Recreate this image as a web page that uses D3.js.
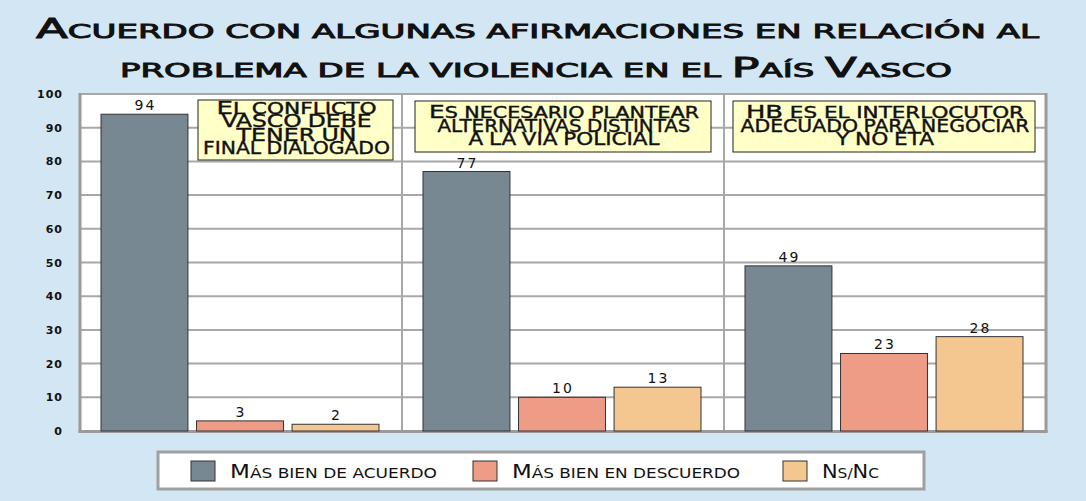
<!DOCTYPE html>
<html>
<head>
<meta charset="utf-8">
<script src="https://cdn.jsdelivr.net/npm/d3@7"></script>
<style>
  html, body { margin: 0; padding: 0; background: #d3e6f4; }
  svg { display: block; }
  text { font-family: "DejaVu Sans", sans-serif; fill: #111; }
</style>
</head>
<body>
<svg id="chart" width="1086" height="501"></svg>
<script>
// data
const groups = ["conflicto", "alternativas", "hb"];
const series = ["Más bien de acuerdo", "Más bien en descuerdo", "Ns/Nc"];
const acuerdo = [94, 77, 49];
const descuerdo = [3, 10, 23];
const nsnc = [2, 13, 28];
const yTicks = [0, 10, 20, 30, 40, 50, 60, 70, 80, 90, 100];
const titleLines = ["Acuerdo con algunas afirmaciones en relación al", "problema de la violencia en el País Vasco"];
const notes = [
  ["El conflicto", "VASCO DEBE", "TENER UN", "FINAL DIALOGADO"],
  ["Es necesario plantear", "ALTERNATIVAS DISTINTAS", "A LA VIA POLICIAL"],
  ["HB es el interlocutor", "ADECUADO PARA NEGOCIAR", "Y NO ETA"]
];

const colors = ["#788892", "#ee9c85", "#f4c690"];
const values = [acuerdo, descuerdo, nsnc];

const svg = d3.select("#chart");

// write text as small caps: letters already in capitals stay big
function smallCaps(sel, str, big, small) {
  let chunks = [];
  for (const ch of str) {
    const isBig = ch !== ch.toLowerCase();
    const last = chunks[chunks.length - 1];
    if (last && last.big === isBig) last.t += ch;
    else chunks.push({ t: ch, big: isBig });
  }
  sel.selectAll("tspan").data(chunks).join("tspan")
    .attr("font-size", d => d.big ? big : small)
    .text(d => d.t.toUpperCase());
}

// title
const titleBox = [[36, 38, 1003], [120, 77, 832]];
titleLines.forEach((line, i) => {
  const t = svg.append("text")
    .attr("x", titleBox[i][0])
    .attr("y", titleBox[i][1])
    .attr("textLength", titleBox[i][2])
    .attr("lengthAdjust", "spacingAndGlyphs")
    .attr("stroke", "#111")
    .attr("stroke-width", 0.9);
  smallCaps(t, line, 26, 19);
});

// scales
const x0 = d3.scaleBand().domain(groups).range([80, 1046]).padding(0);
const x1 = d3.scaleBand().domain(series).range([21, 299]).paddingInner(0.09);
const y = d3.scaleLinear().domain([0, 100]).range([431, 94]);

// plot background
svg.append("rect")
  .attr("x", x0.range()[0]).attr("y", y(100))
  .attr("width", x0.range()[1] - x0.range()[0])
  .attr("height", y(0) - y(100))
  .attr("fill", "#fff");

// gridlines
svg.append("g")
  .selectAll("line").data(yTicks.filter(d => d > 0)).join("line")
  .attr("x1", x0.range()[0]).attr("x2", x0.range()[1])
  .attr("y1", d => y(d)).attr("y2", d => y(d))
  .attr("stroke", "#a8a8a8").attr("stroke-width", 2);

svg.append("g")
  .selectAll("line").data(groups.slice(1)).join("line")
  .attr("x1", d => x0(d)).attr("x2", d => x0(d))
  .attr("y1", y(100)).attr("y2", y(0))
  .attr("stroke", "#a8a8a8").attr("stroke-width", 2);

// frame
svg.append("line")
  .attr("x1", x0.range()[0]).attr("x2", x0.range()[0])
  .attr("y1", y(100) - 1).attr("y2", y(0) + 1.5)
  .attr("stroke", "#9a9a9a").attr("stroke-width", 3);
svg.append("line")
  .attr("x1", x0.range()[1]).attr("x2", x0.range()[1])
  .attr("y1", y(100) - 1).attr("y2", y(0) + 1.5)
  .attr("stroke", "#9a9a9a").attr("stroke-width", 3);
svg.append("line")
  .attr("x1", x0.range()[0] - 1.5).attr("x2", x0.range()[1] + 1.5)
  .attr("y1", y(0) + 0.5).attr("y2", y(0) + 0.5)
  .attr("stroke", "#9a9a9a").attr("stroke-width", 3);

// y axis labels
const yAxis = svg.append("g")
  .attr("transform", `translate(${x0.range()[0]},0)`)
  .call(d3.axisLeft(y).tickValues(yTicks).tickSize(0).tickPadding(17));
yAxis.select(".domain").remove();
yAxis.selectAll("text")
  .attr("font-family", "\"DejaVu Sans\", sans-serif")
  .attr("font-size", 11)
  .attr("font-weight", "bold")
  .attr("letter-spacing", 1)
  .attr("fill", "#111");

// bars
const rows = groups.flatMap((g, gi) => series.map((s, si) => ({ g, s, si, v: values[si][gi] })));

const bars = svg.append("g");
bars.selectAll("rect").data(rows).join("rect")
  .attr("x", d => x0(d.g) + x1(d.s))
  .attr("y", d => y(d.v))
  .attr("width", x1.bandwidth())
  .attr("height", d => y(0) - y(d.v))
  .attr("fill", d => colors[d.si])
  .attr("stroke", "#333")
  .attr("stroke-width", 1);

bars.selectAll("text").data(rows).join("text")
  .attr("x", d => x0(d.g) + x1(d.s) + x1.bandwidth() / 2 + 1)
  .attr("y", d => y(d.v) - 4)
  .attr("text-anchor", "middle")
  .attr("font-size", 14)
  .attr("letter-spacing", 2)
  .text(d => d.v);

// note boxes inside each group
const noteBoxes = [
  { dx: 118, w: 195, y: 100, h: 60, base: 114, step: 13.3, lens: [160, 150, 120, 187] },
  { dx: 13, w: 296, y: 101, h: 51, base: 118, step: 13.5, lens: [270, 253, 191] },
  { dx: 9, w: 302, y: 101, h: 51, base: 118, step: 13.5, lens: [278, 289, 98] }
];
const noteG = svg.append("g");
groups.forEach((g, gi) => {
  const b = noteBoxes[gi];
  const left = x0(g) + b.dx;
  noteG.append("rect")
    .attr("x", left).attr("y", b.y)
    .attr("width", b.w).attr("height", b.h)
    .attr("fill", "#ffffc8").attr("stroke", "#222").attr("stroke-width", 1);
  notes[gi].forEach((line, li) => {
    const t = noteG.append("text")
      .attr("x", left + b.w / 2 - b.lens[li] / 2 + 1)
      .attr("y", b.base + li * b.step)
      .attr("textLength", b.lens[li])
      .attr("lengthAdjust", "spacingAndGlyphs")
      .attr("stroke", "#111")
      .attr("stroke-width", 0.4);
    smallCaps(t, line, 18, 15);
  });
});

// legend
const legend = svg.append("g");
legend.append("rect")
  .attr("x", 158).attr("y", 452).attr("width", 766).attr("height", 37)
  .attr("fill", "#fff").attr("stroke", "#a0a0a0").attr("stroke-width", 3);
const legX = [191, 473, 783];
const legLen = [207, 228, 57];
series.forEach((s, i) => {
  legend.append("rect")
    .attr("x", legX[i]).attr("y", 461).attr("width", 24).attr("height", 20)
    .attr("fill", colors[i]).attr("stroke", "#333").attr("stroke-width", 1);
  const t = legend.append("text")
    .attr("x", legX[i] + 39).attr("y", 478)
    .attr("textLength", legLen[i])
    .attr("lengthAdjust", "spacingAndGlyphs");
  smallCaps(t, s, 19, 14);
});
</script>
</body>
</html>
